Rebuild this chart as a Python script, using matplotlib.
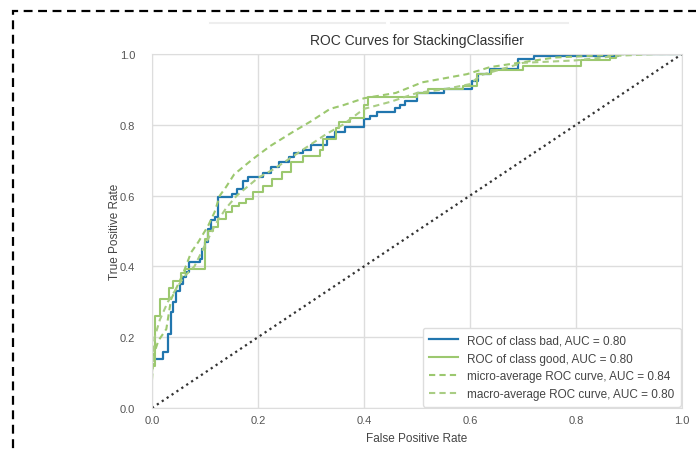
import matplotlib
matplotlib.use("Agg")
import matplotlib.pyplot as plt
from matplotlib.patches import Rectangle
from matplotlib.lines import Line2D

plt.rcParams['font.family'] = ['Liberation Sans', 'DejaVu Sans']

# ROC of class "bad" (step points: x where the curve jumps, new tpr)
bad_fpr = [0.0, 0.021, 0.030, 0.036, 0.040, 0.046, 0.052, 0.058, 0.064, 0.070,
           0.090, 0.094, 0.100, 0.105, 0.112, 0.118, 0.124, 0.150, 0.160, 0.172,
           0.182, 0.210, 0.225, 0.240, 0.258, 0.268, 0.285, 0.300, 0.330, 0.345,
           0.365, 0.400, 0.412, 0.425, 0.458, 0.468, 0.478, 0.500, 0.550, 0.603,
           0.616, 0.638, 0.690, 0.720, 0.880, 1.0]
bad_tpr = [0.138, 0.158, 0.209, 0.27, 0.30, 0.33, 0.35, 0.37, 0.385, 0.412,
           0.42, 0.45, 0.47, 0.505, 0.53, 0.54, 0.595, 0.605, 0.62, 0.64,
           0.652, 0.665, 0.68, 0.695, 0.71, 0.72, 0.73, 0.742, 0.765, 0.78,
           0.795, 0.815, 0.826, 0.835, 0.848, 0.857, 0.868, 0.89, 0.90, 0.925,
           0.943, 0.958, 0.985, 0.995, 1.0, 1.0]

# ROC of class "good"
good_fpr = [0.0, 0.006, 0.016, 0.033, 0.040, 0.055, 0.062, 0.100, 0.105, 0.115,
            0.125, 0.140, 0.150, 0.165, 0.178, 0.190, 0.210, 0.227, 0.245, 0.262,
            0.285, 0.317, 0.322, 0.348, 0.352, 0.374, 0.400, 0.408, 0.500, 0.520,
            0.587, 0.613, 0.640, 0.700, 0.810, 0.864, 0.875, 1.0]
good_tpr = [0.12, 0.26, 0.307, 0.34, 0.36, 0.38, 0.393, 0.477, 0.50, 0.51,
            0.535, 0.553, 0.57, 0.58, 0.59, 0.61, 0.628, 0.646, 0.668, 0.695,
            0.713, 0.73, 0.76, 0.79, 0.807, 0.82, 0.855, 0.878, 0.89, 0.90,
            0.91, 0.943, 0.955, 0.965, 0.983, 0.99, 1.0, 1.0]

micro_fpr = [0.0, 0.003, 0.012, 0.027, 0.036, 0.057, 0.074, 0.087, 0.106, 0.118,
             0.128, 0.140, 0.155, 0.190, 0.223, 0.266, 0.300, 0.336, 0.360, 0.400,
             0.460, 0.510, 0.594, 0.638, 0.700, 0.760, 0.900, 1.0]
micro_tpr = [0.08, 0.15, 0.19, 0.223, 0.307, 0.374, 0.44, 0.468, 0.515, 0.553,
             0.60, 0.625, 0.66, 0.703, 0.74, 0.78, 0.81, 0.845, 0.855, 0.875,
             0.89, 0.92, 0.943, 0.963, 0.977, 0.99, 1.0, 1.0]

macro_fpr = [0.0, 0.005, 0.015, 0.03, 0.045, 0.06, 0.08, 0.10, 0.12, 0.14,
             0.16, 0.18, 0.20, 0.23, 0.26, 0.30, 0.33, 0.36, 0.40, 0.45,
             0.50, 0.55, 0.60, 0.62, 0.70, 0.80, 0.88, 0.95, 1.0]
macro_tpr = [0.10, 0.20, 0.25, 0.30, 0.335, 0.37, 0.40, 0.46, 0.52, 0.565,
             0.60, 0.625, 0.65, 0.675, 0.705, 0.745, 0.775, 0.80, 0.845, 0.865,
             0.89, 0.90, 0.915, 0.94, 0.975, 0.982, 0.995, 1.0, 1.0]

labels = ['ROC of class bad, AUC = 0.80',
          'ROC of class good, AUC = 0.80',
          'micro-average ROC curve, AUC = 0.84',
          'macro-average ROC curve, AUC = 0.80']
ticks = [0.0, 0.2, 0.4, 0.6, 0.8, 1.0]

blue = '#2176ae'
green = '#9cc86f'
green2 = '#a9cd84'
dash = (0, (3, 2))

fig = plt.figure(figsize=(6.96, 4.52), dpi=100)
ax = fig.add_axes([152 / 696, 43 / 452, 530 / 696, 354 / 452])

ax.step(bad_fpr, bad_tpr, where='post', color=blue, lw=1.6, label=labels[0])
ax.step(good_fpr, good_tpr, where='post', color=green, lw=1.5, label=labels[1])
ax.plot(micro_fpr, micro_tpr, color=green, lw=1.5, ls=dash, label=labels[2])
ax.plot(macro_fpr, macro_tpr, color=green2, lw=1.5, ls=dash, label=labels[3])
ax.plot([0, 1], [0, 1], color='#333333', lw=1.6, ls=':')

ax.set_xlim(0, 1)
ax.set_ylim(0, 1)
ax.set_xticks(ticks)
ax.set_yticks(ticks)
ax.set_xticklabels([f'{t:.1f}' for t in ticks])
ax.set_yticklabels([f'{t:.1f}' for t in ticks])
ax.grid(True, color='#dddddd', lw=1)
ax.set_axisbelow(True)
for s in ax.spines.values():
    s.set_color('#dddddd')
ax.tick_params(axis='both', length=0, labelsize=8, labelcolor='#555555')
ax.tick_params(axis='y', pad=12)
ax.tick_params(axis='x', pad=5)

ax.set_title('ROC Curves for StackingClassifier', fontsize=10, color='#333333', pad=7)
ax.set_xlabel('False Positive Rate', fontsize=8.5, color='#444444', labelpad=5)
ax.set_ylabel('True Positive Rate', fontsize=8.5, color='#444444', labelpad=-1)

leg = ax.legend(loc='lower right', fontsize=8.5, frameon=True, framealpha=1,
                edgecolor='#dddddd', borderaxespad=0.1, labelspacing=0.5,
                borderpad=0.55, handlelength=2.4)
for t in leg.get_texts():
    t.set_color('#444444')

# faint strips at the top and the dashed frame around the figure
fig.add_artist(Line2D([210 / 696, 385 / 696], [1 - 24 / 452] * 2, color='#eeeeee', lw=1.5))
fig.add_artist(Line2D([391 / 696, 568 / 696], [1 - 24 / 452] * 2, color='#eeeeee', lw=1.5))
fig.add_artist(Rectangle((13 / 696, -0.1), 1.0, 1.1 - 12 / 452, transform=fig.transFigure,
                         fill=False, edgecolor='black', lw=1.6, ls=(0, (4, 2.5))))

fig.savefig('out.png', dpi=100)
